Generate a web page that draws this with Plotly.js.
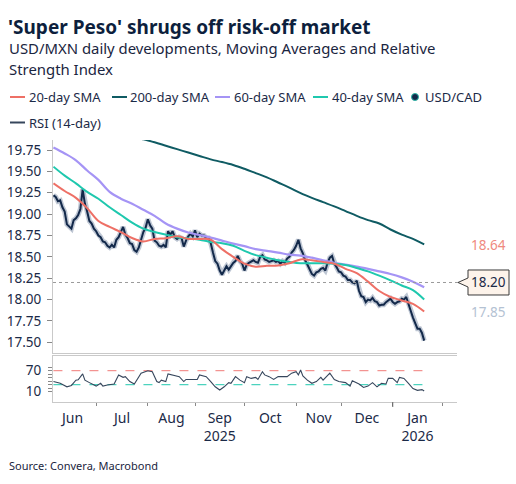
<!DOCTYPE html>
<html>
<head>
<meta charset="utf-8">
<script src="https://cdn.plot.ly/plotly-3.0.1.min.js"></script>
<style>html,body{margin:0;padding:0;background:#fff;}#chart{width:516px;height:484px;}</style>
</head>
<body>
<div id="chart"></div>
<script>
// ---------------- DATA ----------------
const calendarStart = '2025-06-02';   // first weekday of June 2025
const dataOffset = 2;                  // data begins on 2025-06-04
// USD/MXN daily close (one value per weekday from 2025-06-04)
const priceClose = [
19.22,19.20,19.15,19.16,19.08,19.03,18.88,18.86,18.83,18.93,
18.95,18.99,19.06,19.29,19.12,19.03,18.92,18.89,18.83,18.80,
18.75,18.73,18.68,18.67,18.63,18.61,18.64,18.61,18.70,18.73,
18.79,18.85,18.76,18.72,18.66,18.65,18.58,18.56,18.61,18.70,
18.79,18.84,18.94,18.87,18.83,18.69,18.67,18.63,18.62,18.64,
18.61,18.80,18.76,18.80,18.73,18.71,18.73,18.72,18.62,18.69,
18.74,18.77,18.74,18.81,18.73,18.77,18.75,18.75,18.72,18.72,
18.66,18.55,18.45,18.42,18.34,18.29,18.35,18.39,18.35,18.39,
18.43,18.45,18.51,18.45,18.42,18.34,18.41,18.43,18.45,18.46,
18.44,18.43,18.50,18.52,18.47,18.46,18.44,18.45,18.46,18.44,
18.45,18.42,18.45,18.43,18.48,18.50,18.55,18.58,18.63,18.70,
18.60,18.54,18.46,18.41,18.35,18.30,18.28,18.32,18.33,18.36,
18.37,18.34,18.43,18.49,18.51,18.42,18.38,18.33,18.32,18.28,
18.27,18.23,18.23,18.20,18.19,18.22,18.10,18.04,18.03,17.97,
18.00,17.99,18.02,17.98,17.97,17.93,17.94,17.94,17.97,17.99,
18.01,17.97,17.95,17.97,17.98,18.01,18.00,18.03,17.96,17.87,
17.79,17.72,17.66,17.66,17.61,17.52
];
// Moving averages sampled every 5 weekdays (data index)
const smaIdx = [0,5,10,15,20,25,30,35,40,45,50,55,60,65,70,75,80,85,90,95,100,105,110,115,120,125,130,135,140,145,150,155,160,165];
const sma20 = [19.36,19.27,19.19,19.07,18.92,18.85,18.79,18.72,18.68,18.71,18.717,18.74,18.71,18.71,18.70,18.59,18.50,18.42,18.385,18.395,18.40,18.425,18.47,18.46,18.44,18.42,18.36,18.31,18.21,18.10,18.03,17.99,17.95,17.86];
const sma40 = [19.555,19.45,19.36,19.26,19.18,19.08,18.99,18.90,18.83,18.79,18.76,18.73,18.715,18.70,18.675,18.66,18.63,18.57,18.52,18.49,18.46,18.44,18.425,18.425,18.425,18.42,18.405,18.37,18.33,18.28,18.225,18.165,18.11,18.00];
const sma60 = [19.78,19.71,19.63,19.51,19.40,19.26,19.18,19.12,19.05,18.98,18.89,18.83,18.785,18.755,18.725,18.69,18.655,18.625,18.59,18.57,18.55,18.525,18.515,18.49,18.46,18.43,18.41,18.385,18.36,18.33,18.30,18.26,18.21,18.145];
const sma200 = [20.15,20.12,20.09,20.05,20.01,19.97,19.93,19.90,19.875,19.84,19.80,19.76,19.72,19.68,19.64,19.61,19.575,19.53,19.48,19.43,19.37,19.31,19.245,19.19,19.14,19.09,19.035,18.98,18.93,18.89,18.82,18.76,18.71,18.645];
// RSI (14-day)
const rsiIdx = [0,3,6,8,10,11,13,14,16,19,21,22,24,27,29,31,32,34,36,39,42,44,46,47,48,50,51,53,56,58,59,62,64,65,68,70,72,74,76,78,79,81,83,85,86,88,90,91,93,94,96,98,100,102,104,106,108,109,110,111,113,115,117,119,120,123,125,127,130,132,133,136,138,140,142,144,146,148,149,151,153,154,156,158,160,162,164,165];
const rsiVal = [39,34,24,28,43,44,61,43,36,26,34,26,29,32,58,51,53,39,32,63,70,67,39,36,43,39,61,58,53,39,45,45,45,58,53,39,24,15,24,36,34,53,43,36,53,48,51,45,67,58,53,45,53,53,53,63,67,58,72,55,43,34,39,51,43,63,45,39,36,26,41,32,22,26,36,24,34,32,48,48,36,51,48,34,19,14,16,12];
const rsiUpper = 70, rsiLower = 30;
const refLevel = 18.20;
const endLabels = ['18.64','18.20','17.85'];
const endLabelVals = [18.64, 18.20, 17.85];
const monthLabels = ['Jun','Jul','Aug','Sep<br>2025','Oct','Nov','Dec','Jan<br>2026'];
const seriesNames = ['20-day SMA','200-day SMA','60-day SMA','40-day SMA','USD/CAD','RSI (14-day)'];
const mainTickVals = [17.50,17.75,18.00,18.25,18.50,18.75,19.00,19.25,19.50,19.75];
const rsiTickVals = [10,20,30,40,50,60,70,80];
const rsiTickText = ['10','','','','','','70',''];

// ---------------- CALENDAR ----------------
function weekdays(startISO, n){
  const out=[]; const d=new Date(startISO+'T00:00:00Z');
  while(out.length<n){ const wd=d.getUTCDay(); if(wd!==0&&wd!==6) out.push(d.toISOString().slice(0,10)); d.setUTCDate(d.getUTCDate()+1); }
  return out;
}
const cal = weekdays(calendarStart, 200);
const monthStarts = [];
for(let c=0;c<cal.length;c++){ if(c===0||cal[c].slice(5,7)!==cal[c-1].slice(5,7)) monthStarts.push(c-dataOffset); }
const monthMids = [];
for(let m=0;m<monthLabels.length;m++){ monthMids.push((monthStarts[m]+monthStarts[m+1])/2); }
const xIdx = priceClose.map((v,i)=>i);

// ---------------- STYLE ----------------
const FONT = 'Noto Sans, Open Sans, sans-serif';
const TXT = '#1b2a47';
const C = {s20:'#ee7066', s200:'#0f5b63', s60:'#a594f5', s40:'#1fc8ae', px:'#13294a', rsi:'#36465c'};
const W=516,H=484,L=53,R=59,T=140,B=82, PW=W-L-R, PH=H-T-B;
const px2x = p => (p-L)/PW, py2y = p => (H-B-p)/PH;
const xr = [-0.2, 179.6];
const mainDom = [py2y(352.5), 1], rsiDom = [0, py2y(356)];
const yr = [17.381, 19.867];
const v2p = v => mainDom[0] + (v-yr[0])/(yr[1]-yr[0])*(mainDom[1]-mainDom[0]);

const traces = [
  {x:xIdx, y:priceClose, xaxis:'x2', yaxis:'y', mode:'lines', line:{color:'rgba(125,142,168,0.5)', width:5}, hoverinfo:'skip'},
  {x:xIdx, y:priceClose, xaxis:'x2', yaxis:'y', mode:'lines', line:{color:C.px, width:2}, name:seriesNames[4]},
  {x:smaIdx, y:sma200, xaxis:'x2', yaxis:'y', mode:'lines', line:{color:C.s200, width:2, shape:'spline'}, name:seriesNames[1]},
  {x:smaIdx, y:sma60, xaxis:'x2', yaxis:'y', mode:'lines', line:{color:C.s60, width:2.2, shape:'spline'}, name:seriesNames[2]},
  {x:smaIdx, y:sma40, xaxis:'x2', yaxis:'y', mode:'lines', line:{color:C.s40, width:2, shape:'spline'}, name:seriesNames[3]},
  {x:smaIdx, y:sma20, xaxis:'x2', yaxis:'y', mode:'lines', line:{color:C.s20, width:2, shape:'spline'}, name:seriesNames[0]},
  {x:[0,165], y:[rsiUpper,rsiUpper], xaxis:'x', yaxis:'y2', mode:'lines', line:{color:'#f07b78', width:1, dash:'dash'}},
  {x:[0,165], y:[rsiLower,rsiLower], xaxis:'x', yaxis:'y2', mode:'lines', line:{color:'#1fc8ae', width:1, dash:'dash'}},
  {x:rsiIdx, y:rsiVal, xaxis:'x', yaxis:'y2', mode:'lines', line:{color:C.rsi, width:1.1}, name:seriesNames[5]},
  {x:[monthMids[0]], y:[null], xaxis:'x3', yaxis:'y2', mode:'lines', hoverinfo:'skip'}
];

const axLine = '#c9c9c9';
const layout = {
  width:W, height:H, margin:{l:L,r:R,t:T,b:B,pad:0},
  paper_bgcolor:'#fff', plot_bgcolor:'#fff', showlegend:false, hovermode:false,
  font:{family:FONT, color:TXT, size:13},
  title:{text:"'Super Peso' shrugs off risk-off market", font:{family:FONT, size:19, color:'#0d1f3d', weight:700},
         xref:'container', yref:'container', x:8/W, xanchor:'left', y:1-27/H, yanchor:'middle'},
  xaxis:{domain:[0,1], anchor:'y2', range:xr, tickmode:'array', tickvals:monthStarts, ticktext:monthStarts.map(()=>''),
         ticks:'outside', ticklen:3, tickcolor:'#888', showline:true, linecolor:axLine, mirror:true, showgrid:false, zeroline:false, automargin:false},
  xaxis2:{domain:[0,1], anchor:'y', range:xr, showticklabels:false, ticks:'', showline:true, linecolor:axLine, showgrid:false, zeroline:false, automargin:false},
  xaxis3:{overlaying:'x', anchor:'y2', range:xr, tickmode:'array', tickvals:monthMids, ticktext:monthLabels, ticks:'',
          showline:false, showgrid:false, zeroline:false, tickfont:{size:14, color:TXT}, ticklabelstandoff:6, automargin:false},
  yaxis:{domain:mainDom, anchor:'x2', range:yr, tickmode:'array', tickvals:mainTickVals, tickformat:'.2f',
         ticks:'outside', ticklen:5, tickcolor:'#888', showline:true, linecolor:axLine, showgrid:false, zeroline:false,
         tickfont:{size:13.5, color:TXT}, ticklabelstandoff:3, automargin:false},
  yaxis2:{domain:rsiDom, anchor:'x', range:[-19.4,112], tickmode:'array', tickvals:rsiTickVals, ticktext:rsiTickText,
          ticks:'outside', ticklen:4, tickcolor:'#888', showline:true, linecolor:axLine, showgrid:false, zeroline:false,
          tickfont:{size:13.5, color:TXT}, ticklabelstandoff:4, automargin:false},
  shapes:[], annotations:[]
};

// reference level dotted line
layout.shapes.push({type:'line', xref:'paper', yref:'y', x0:0, x1:px2x(458), y0:refLevel, y1:refLevel, line:{color:'#9a9a9a', width:1, dash:'dot'}});
// callout box for 18.20
(function(){
  const yc=v2p(endLabelVals[1]), tip=px2x(458), b0=px2x(468), b1=px2x(509), hh=12.5/PH, nh=4.5/PH;
  layout.shapes.push({type:'path', xref:'paper', yref:'paper', fillcolor:'#fdf3ea', line:{color:'#3a3a3a', width:1},
    path:`M${tip},${yc} L${b0},${yc+nh} L${b0},${yc+hh} L${b1},${yc+hh} L${b1},${yc-hh} L${b0},${yc-hh} L${b0},${yc-nh} Z`});
})();
// long tick at year boundary
const jan = monthStarts[7];
layout.shapes.push({type:'line', xref:'paper', yref:'paper', x0:(jan-xr[0])/(xr[1]-xr[0]), x1:(jan-xr[0])/(xr[1]-xr[0]), y0:0, y1:-5/PH, line:{color:'#666', width:1}});

// end labels
const endColors = ['#ef8a80', TXT, '#b4c2d3'];
endLabels.forEach((t,k)=>{
  layout.annotations.push({text:t, xref:'paper', yref:'y', x:px2x(488), y:endLabelVals[k], xanchor:'center', yanchor:'middle', showarrow:false,
    font:{size:13.5, color:endColors[k], family:FONT}});
});

// subtitle
layout.annotations.push({text:'USD/MXN daily developments, Moving Averages and Relative', xref:'paper', yref:'paper', x:px2x(7), y:py2y(48), xanchor:'left', yanchor:'middle', showarrow:false, font:{size:14.9, color:'#1a2540'}});
layout.annotations.push({text:'Strength Index', xref:'paper', yref:'paper', x:px2x(7), y:py2y(69), xanchor:'left', yanchor:'middle', showarrow:false, font:{size:14.9, color:'#1a2540'}});
// source
layout.annotations.push({text:'Source: Convera, Macrobond', xref:'paper', yref:'paper', x:px2x(7), y:py2y(465), xanchor:'left', yanchor:'middle', showarrow:false, font:{size:11, color:'#1a2540'}});

// custom legend
const legColors = [C.s20, C.s200, C.s60, C.s40, null, C.rsi];
const legX = [10, 112, 215, 313, 410, 10];
const legY = [97, 97, 97, 97, 97, 122.5];
const legTextX = [27, 128, 232, 330, 423, 27];
seriesNames.forEach((n,k)=>{
  if(legColors[k]){
    layout.shapes.push({type:'line', xref:'paper', yref:'paper', x0:px2x(legX[k]), x1:px2x(legX[k]+15), y0:py2y(legY[k]), y1:py2y(legY[k]), line:{color:legColors[k], width:2}});
  } else {
    layout.shapes.push({type:'circle', xref:'paper', yref:'paper', x0:px2x(legX[k]+1.5), x1:px2x(legX[k]+8.5), y0:py2y(legY[k]+3.5), y1:py2y(legY[k]-3.5), fillcolor:C.px, line:{color:'#2bb5a6', width:1}});
  }
  layout.annotations.push({text:n, xref:'paper', yref:'paper', x:px2x(legTextX[k]), y:py2y(legY[k]), xanchor:'left', yanchor:'middle', showarrow:false, font:{size:13, color:TXT}});
});

Plotly.newPlot('chart', traces, layout, {staticPlot:true, displayModeBar:false});
</script>
</body>
</html>
